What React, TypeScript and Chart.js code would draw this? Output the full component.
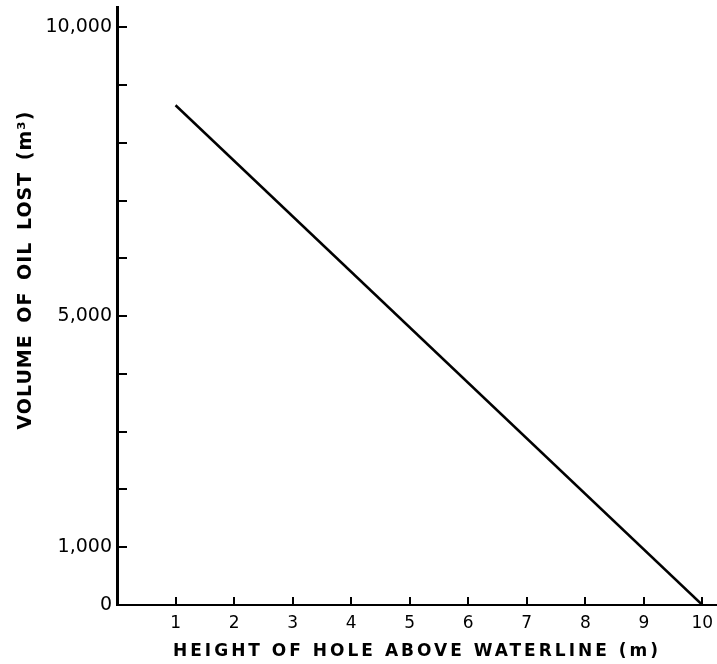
import { useEffect, useRef } from "react";
import { Chart, registerables } from "chart.js";

Chart.register(...registerables);

// ---- data ----
const heights = [1, 10]; // height of hole above waterline (m)
const volumes = [8650, 0]; // volume of oil lost (m³)
const xTickValues = [0, 1, 2, 3, 4, 5, 6, 7, 8, 9, 10];
const xLabeledTicks = [1, 2, 3, 4, 5, 6, 7, 8, 9, 10];
const yTickValues = [0, 1000, 2000, 3000, 4000, 5000, 6000, 7000, 8000, 9000, 10000];
const yLabeledTicks = [0, 1000, 5000, 10000];
const xTitle = "HEIGHT OF HOLE ABOVE WATERLINE (m)";
const yTitle = "VOLUME OF OIL LOST (m³)";
const xMin = 0;
const xMax = 10.25;
const yMin = 0;
const yMax = 10350;

const FONT = "'DejaVu Sans', 'Liberation Sans', sans-serif";

const axisDecor = {
  id: "axisDecor",
  afterDraw(chart: any) {
    const { ctx, chartArea, scales } = chart;
    const x = scales.x;
    const y = scales.y;
    ctx.save();
    ctx.strokeStyle = "#000";
    ctx.lineWidth = 2;
    // inward tick marks on y axis
    y.ticks.forEach((t: any) => {
      if (t.value === 0) return;
      const py = Math.round(y.getPixelForValue(t.value));
      ctx.beginPath();
      ctx.moveTo(chartArea.left, py);
      ctx.lineTo(chartArea.left + 10, py);
      ctx.stroke();
    });
    // inward tick marks on x axis
    x.ticks.forEach((t: any) => {
      if (!xLabeledTicks.includes(t.value)) return;
      const px = Math.round(x.getPixelForValue(t.value));
      ctx.beginPath();
      ctx.moveTo(px, chartArea.bottom);
      ctx.lineTo(px, chartArea.bottom - 8);
      ctx.stroke();
    });

    // axis titles
    ctx.fillStyle = "#000";
    ctx.textAlign = "center";
    ctx.textBaseline = "middle";
    ctx.font = `bold 17px ${FONT}`;
    (ctx as any).letterSpacing = "3px";
    (ctx as any).wordSpacing = "0px";
    ctx.fillText(xTitle, (chartArea.left + chartArea.right) / 2, chartArea.bottom + 47);

    ctx.font = `bold 19px ${FONT}`;
    (ctx as any).letterSpacing = "1px";
    (ctx as any).wordSpacing = "4px";
    ctx.translate(26, chartArea.top + (chartArea.bottom - chartArea.top) * 0.44);
    ctx.rotate(-Math.PI / 2);
    ctx.fillText(yTitle, 0, 0);
    ctx.restore();
  },
};

export default function App() {
  const canvasRef = useRef<HTMLCanvasElement | null>(null);

  useEffect(() => {
    if (!canvasRef.current) return;
    const chart = new Chart(canvasRef.current, {
      type: "line",
      data: {
        datasets: [
          {
            data: heights.map((h, i) => ({ x: h, y: volumes[i] })),
            borderColor: "#000",
            borderWidth: 2.5,
            pointRadius: 0,
            fill: false,
            tension: 0,
          },
        ],
      },
      options: {
        animation: false,
        responsive: false,
        events: [],
        layout: { padding: { top: 7, left: 0, right: 0, bottom: 0 } },
        plugins: {
          legend: { display: false },
          tooltip: { enabled: false },
          title: { display: false },
        },
        scales: {
          x: {
            type: "linear",
            min: xMin,
            max: xMax,
            grid: { display: false, drawTicks: false },
            border: { display: true, color: "#000", width: 2 },
            afterBuildTicks: (scale: any) => {
              scale.ticks = xTickValues.map((v) => ({ value: v }));
            },
            ticks: {
              autoSkip: false,
              maxRotation: 0,
              padding: 8,
              color: "#000",
              font: { family: FONT, size: 17 },
              callback: (v: any) => (xLabeledTicks.includes(Number(v)) ? String(v) : ""),
            },
            afterFit: (scale: any) => {
              scale.height = 59;
              scale.paddingLeft = 0;
              scale.paddingRight = 0;
            },
          },
          y: {
            type: "linear",
            min: yMin,
            max: yMax,
            grid: { display: false, drawTicks: false },
            border: { display: true, color: "#000", width: 3 },
            afterBuildTicks: (scale: any) => {
              scale.ticks = yTickValues.map((v) => ({ value: v }));
            },
            ticks: {
              autoSkip: false,
              padding: 5,
              color: "#000",
              font: { family: FONT, size: 19 },
              callback: (v: any) =>
                yLabeledTicks.includes(Number(v)) ? Number(v).toLocaleString("en-US") : "",
            },
            afterFit: (scale: any) => {
              scale.width = 117;
              scale.paddingTop = 0;
              scale.paddingBottom = 0;
            },
          },
        },
      },
      plugins: [axisDecor],
    });
    return () => chart.destroy();
  }, []);

  return (
    <div style={{ position: "absolute", left: 0, top: 0, width: 717, height: 664, background: "#fff" }}>
      <canvas ref={canvasRef} width={717} height={664} style={{ display: "block" }} />
    </div>
  );
}
